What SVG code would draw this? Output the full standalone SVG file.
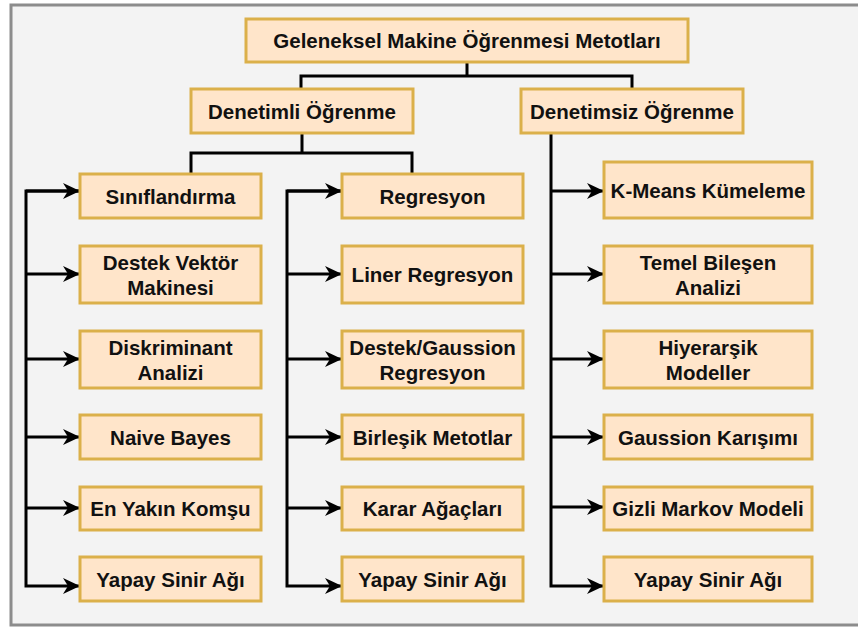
<svg xmlns="http://www.w3.org/2000/svg" width="858" height="627" viewBox="0 0 858 627">
  <style>
    .box { fill: #ffe5ca; stroke: #dbb04a; stroke-width: 3; }
    .lbl { font-family: "Liberation Sans", Arial, Helvetica, sans-serif; font-weight: bold; font-size: 20.5px; fill: #111111; text-anchor: middle; }
    .wire { fill: none; stroke: #000; stroke-width: 3; stroke-linejoin: miter; }
  </style>
  <defs>
    <marker id="arrow" markerUnits="userSpaceOnUse" markerWidth="18" markerHeight="16" refX="17" refY="8" orient="auto">
      <path d="M0,0 L17,8 L0,16 L5,8 Z" fill="#000"/>
    </marker>
  </defs>

  <!-- frame -->
  <rect x="0" y="0" width="858" height="627" fill="#ffffff"/>
  <rect x="11" y="5" width="852" height="620" fill="#f3f3f3" stroke="#8c8c8c" stroke-width="3"/>

  <!-- connectors -->
  <g id="connectors">
    <path class="wire" d="M467,62 V76 M301,89 V76 H632 V89"/>
    <path class="wire" d="M302,133 V153 M191,174 V153 H412 V174"/>
    <!-- classification branch -->
    <path class="wire" d="M80,191 H26 V586 H80" marker-end="url(#arrow)"/>
    <path class="wire" d="M26,191 H80" marker-end="url(#arrow)"/>
    <path class="wire" d="M26,274 H80" marker-end="url(#arrow)"/>
    <path class="wire" d="M26,359 H80" marker-end="url(#arrow)"/>
    <path class="wire" d="M26,437 H80" marker-end="url(#arrow)"/>
    <path class="wire" d="M26,508 H80" marker-end="url(#arrow)"/>
    <!-- regression branch -->
    <path class="wire" d="M342,191 H287 V586 H342" marker-end="url(#arrow)"/>
    <path class="wire" d="M287,191 H342" marker-end="url(#arrow)"/>
    <path class="wire" d="M287,274 H342" marker-end="url(#arrow)"/>
    <path class="wire" d="M287,359 H342" marker-end="url(#arrow)"/>
    <path class="wire" d="M287,437 H342" marker-end="url(#arrow)"/>
    <path class="wire" d="M287,508 H342" marker-end="url(#arrow)"/>
    <!-- unsupervised branch -->
    <path class="wire" d="M551,133 V586 H604" marker-end="url(#arrow)"/>
    <path class="wire" d="M550,191 H604" marker-end="url(#arrow)"/>
    <path class="wire" d="M551,274 H604" marker-end="url(#arrow)"/>
    <path class="wire" d="M551,359 H604" marker-end="url(#arrow)"/>
    <path class="wire" d="M551,437 H604" marker-end="url(#arrow)"/>
    <path class="wire" d="M551,507 H604" marker-end="url(#arrow)"/>
  </g>

  <!-- top level -->
  <g id="root">
    <rect class="box" x="246" y="19" width="442" height="43"/>
    <text class="lbl" x="467" y="48">Geleneksel Makine Öğrenmesi Metotları</text>
  </g>
  <g id="supervised">
    <rect class="box" x="191" y="89" width="222" height="44"/>
    <text class="lbl" x="302" y="119">Denetimli Öğrenme</text>
  </g>
  <g id="unsupervised">
    <rect class="box" x="521" y="89" width="222" height="44"/>
    <text class="lbl" x="632" y="119">Denetimsiz Öğrenme</text>
  </g>

  <!-- classification column -->
  <g id="classification">
    <rect class="box" x="80" y="174" width="181" height="44"/>
    <text class="lbl" x="170.5" y="204">Sınıflandırma</text>
  </g>
  <g id="svm">
    <rect class="box" x="80" y="246" width="181" height="57"/>
    <text class="lbl" x="170.5" y="270">Destek Vektör</text>
    <text class="lbl" x="170.5" y="295">Makinesi</text>
  </g>
  <g id="discriminant">
    <rect class="box" x="80" y="331" width="181" height="57"/>
    <text class="lbl" x="170.5" y="355">Diskriminant</text>
    <text class="lbl" x="170.5" y="380">Analizi</text>
  </g>
  <g id="naive-bayes">
    <rect class="box" x="80" y="415" width="181" height="44"/>
    <text class="lbl" x="170.5" y="445">Naive Bayes</text>
  </g>
  <g id="knn">
    <rect class="box" x="80" y="487" width="181" height="43"/>
    <text class="lbl" x="170.5" y="516">En Yakın Komşu</text>
  </g>
  <g id="ann-1">
    <rect class="box" x="80" y="557" width="181" height="44"/>
    <text class="lbl" x="170.5" y="587">Yapay Sinir Ağı</text>
  </g>

  <!-- regression column -->
  <g id="regression">
    <rect class="box" x="342" y="174" width="181" height="44"/>
    <text class="lbl" x="432.5" y="204">Regresyon</text>
  </g>
  <g id="linear">
    <rect class="box" x="342" y="246" width="181" height="57"/>
    <text class="lbl" x="432.5" y="282">Liner Regresyon</text>
  </g>
  <g id="gaussian-reg">
    <rect class="box" x="342" y="331" width="181" height="57"/>
    <text class="lbl" x="432.5" y="355">Destek/Gaussion</text>
    <text class="lbl" x="432.5" y="380">Regresyon</text>
  </g>
  <g id="ensemble">
    <rect class="box" x="342" y="415" width="181" height="44"/>
    <text class="lbl" x="432.5" y="445">Birleşik Metotlar</text>
  </g>
  <g id="trees">
    <rect class="box" x="342" y="487" width="181" height="43"/>
    <text class="lbl" x="432.5" y="516">Karar Ağaçları</text>
  </g>
  <g id="ann-2">
    <rect class="box" x="342" y="557" width="181" height="44"/>
    <text class="lbl" x="432.5" y="587">Yapay Sinir Ağı</text>
  </g>

  <!-- unsupervised column -->
  <g id="kmeans">
    <rect class="box" x="604" y="162" width="208" height="56"/>
    <text class="lbl" x="708" y="198">K-Means Kümeleme</text>
  </g>
  <g id="pca">
    <rect class="box" x="604" y="246" width="208" height="57"/>
    <text class="lbl" x="708" y="270">Temel Bileşen</text>
    <text class="lbl" x="708" y="295">Analizi</text>
  </g>
  <g id="hierarchical">
    <rect class="box" x="604" y="331" width="208" height="57"/>
    <text class="lbl" x="708" y="355">Hiyerarşik</text>
    <text class="lbl" x="708" y="380">Modeller</text>
  </g>
  <g id="gmm">
    <rect class="box" x="604" y="415" width="208" height="44"/>
    <text class="lbl" x="708" y="445">Gaussion Karışımı</text>
  </g>
  <g id="hmm">
    <rect class="box" x="604" y="487" width="208" height="43"/>
    <text class="lbl" x="708" y="516">Gizli Markov Modeli</text>
  </g>
  <g id="ann-3">
    <rect class="box" x="604" y="557" width="208" height="44"/>
    <text class="lbl" x="708" y="587">Yapay Sinir Ağı</text>
  </g>
</svg>
